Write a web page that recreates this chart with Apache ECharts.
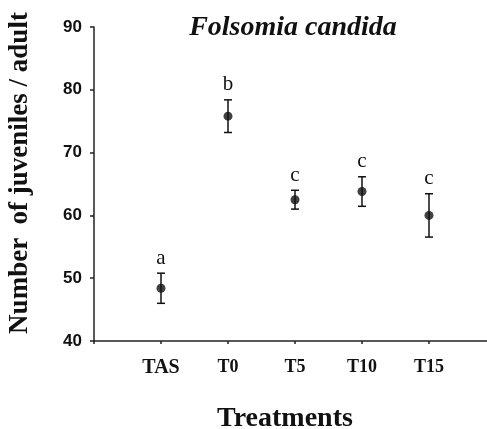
<!DOCTYPE html>
<html><head><meta charset="utf-8">
<script src="https://cdn.jsdelivr.net/npm/echarts@6/dist/echarts.min.js"></script>
<style>html,body{margin:0;padding:0;background:#fff}#c{width:487px;height:429px}</style>
</head><body><div id="c"></div>
<script>
const categories = ['TAS', 'T0', 'T5', 'T10', 'T15'];
const means = [48.4, 75.8, 62.5, 63.8, 60.0];
const errors = [2.4, 2.6, 1.5, 2.35, 3.45];
const letters = ['a', 'b', 'c', 'c', 'c'];
const yTicks = [40, 50, 60, 70, 80, 90];

const serif = '"Liberation Serif", "Times New Roman", serif';
const sans = '"Liberation Sans", Arial, sans-serif';
const chart = echarts.init(document.getElementById('c'), null, {renderer: 'canvas'});
const pos = categories.map((c, i) => i + 1);
const errData = categories.map((c, i) => [pos[i], means[i] - errors[i], means[i] + errors[i], letters[i]]);
const ptData = categories.map((c, i) => [pos[i], means[i]]);

chart.setOption({
  backgroundColor: '#fff',
  animation: false,
  title: {
    text: 'Folsomia candida',
    left: 288, top: 9, textAlign: 'center',
    textStyle: {fontFamily: serif, fontStyle: 'italic', fontWeight: 'bold', fontSize: 28, color: '#111'}
  },
  grid: {left: 94, top: 27, width: 402, height: 314, containLabel: false, outerBoundsMode: 'none'},
  xAxis: {
    type: 'value', min: 0, max: 6, interval: 1,
    name: 'Treatments', nameLocation: 'middle', nameGap: 64,
    nameTextStyle: {fontFamily: serif, fontWeight: 'bold', fontSize: 28, color: '#111', padding: [0, 20, 0, 0]},
    axisLine: {lineStyle: {color: '#222', width: 1.5}},
    axisTick: {show: true, inside: false, length: 3, lineStyle: {color: '#222', width: 1.5}},
    axisLabel: {
      fontFamily: serif, fontWeight: 'bold', fontSize: 18, color: '#111', margin: 17,
      formatter: v => (v >= 1 && v <= categories.length) ? (v === 1 ? '{big|' + categories[v - 1] + '}' : categories[v - 1]) : '',
      rich: {big: {fontFamily: serif, fontWeight: 'bold', fontSize: 20, color: '#111'}}
    },
    splitLine: {show: false}
  },
  yAxis: {
    type: 'value', min: yTicks[0], max: yTicks[yTicks.length - 1], interval: 10,
    name: 'Number  of juveniles / adult', nameLocation: 'middle', nameGap: 60, nameRotate: 90,
    nameTextStyle: {fontFamily: serif, fontWeight: 'bold', fontSize: 27, color: '#111', padding: [0, 0, 0, 22]},
    axisLine: {show: true, lineStyle: {color: '#222', width: 1.5}},
    axisTick: {show: true, inside: false, length: 4, lineStyle: {color: '#222', width: 1.5}},
    axisLabel: {fontFamily: sans, fontWeight: 'bold', fontSize: 17, color: '#111', margin: 12},
    splitLine: {show: false}
  },
  series: [
    {
      type: 'custom',
      data: errData,
      renderItem: function (params, api) {
        const x = api.value(0);
        const lo = api.coord([x, api.value(1)]);
        const hi = api.coord([x, api.value(2)]);
        const w = 4;
        const st = {stroke: '#111', lineWidth: 1.5};
        return {
          type: 'group',
          children: [
            {type: 'line', shape: {x1: lo[0], y1: lo[1], x2: hi[0], y2: hi[1]}, style: st},
            {type: 'line', shape: {x1: lo[0] - w, y1: lo[1], x2: lo[0] + w, y2: lo[1]}, style: st},
            {type: 'line', shape: {x1: hi[0] - w, y1: hi[1], x2: hi[0] + w, y2: hi[1]}, style: st},
            {type: 'text', x: hi[0], y: hi[1] - 15, style: {text: api.value(3), fill: '#111', font: '21px ' + serif, align: 'center', verticalAlign: 'middle'}}
          ]
        };
      },
      encode: {x: 0, y: [1, 2]},
      z: 2
    },
    {
      type: 'scatter',
      data: ptData,
      symbol: 'circle',
      symbolSize: 9,
      itemStyle: {color: '#111'},
      z: 3
    }
  ]
});
</script>
</body></html>
